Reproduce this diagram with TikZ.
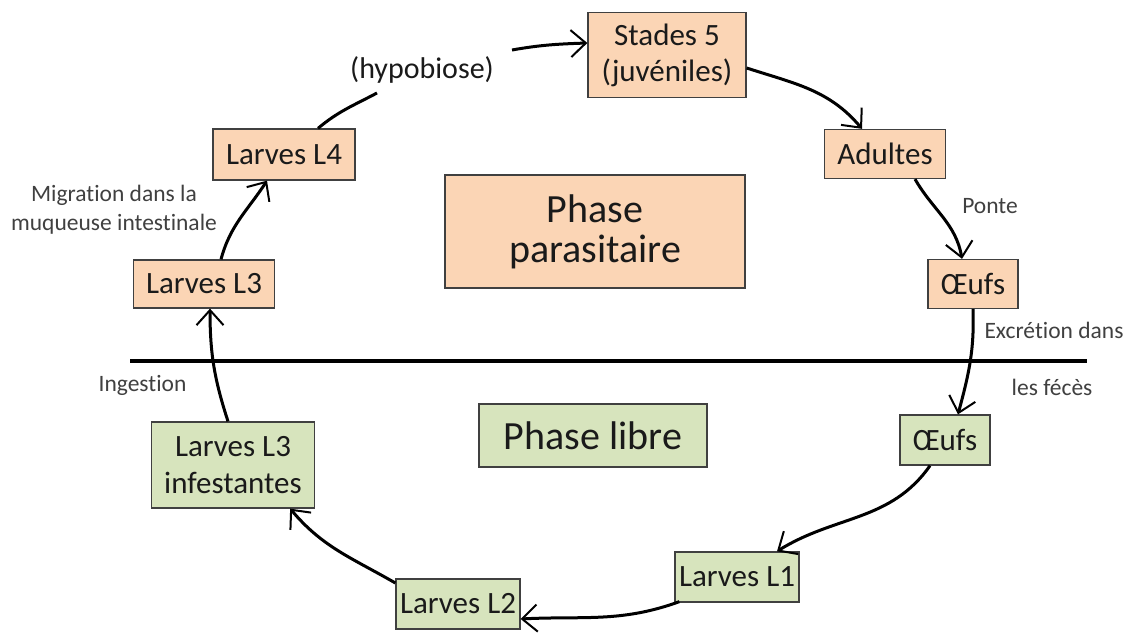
\documentclass[tikz,border=0pt]{standalone}
\usepackage{fontspec}
\setmainfont{Carlito}[Ligatures=NoCommon]
\usetikzlibrary{arrows.meta}
\definecolor{orfill}{HTML}{FBD5B5}
\definecolor{grfill}{HTML}{D7E4BD}
\definecolor{bord}{HTML}{404040}
\definecolor{txt}{HTML}{1A1A1A}
\definecolor{lab}{HTML}{404040}
\begin{document}
\begin{tikzpicture}[x=1pt,y=1pt,
 box/.style={draw=bord, line width=1.3pt, inner sep=0pt, align=center, text=txt, font=\fontsize{31}{36}\selectfont},
 obox/.style={box, fill=orfill},
 gbox/.style={box, fill=grfill},
 lbl/.style={text=lab, font=\fontsize{23.5}{29}\selectfont, align=center, inner sep=0pt},
 conn/.style={line width=3pt, draw=black, -{Straight Barb[length=15pt,width=27pt,line width=2pt]}},
 plainline/.style={line width=3pt, draw=black},
]
\useasboundingbox (0,0) rectangle (1132,635);
% separator
\coordinate (sepL) at (130,274);
\coordinate (sepR) at (1087,274);
\draw[line width=4.5pt] (sepL) -- (sepR);
% boxes
\node[obox, minimum width=158pt, minimum height=85pt] (S5) at (667,580) {Stades 5\\(juvéniles)};
\node[obox, minimum width=121pt, minimum height=49pt] (AD) at (885,481) {Adultes};
\node[obox, minimum width=90pt, minimum height=49pt] (OO) at (973,351) {Œufs};
\node[gbox, minimum width=90pt, minimum height=50pt] (OG) at (945,195) {Œufs};
\node[gbox, minimum width=124pt, minimum height=50pt] (L1) at (737,58) {Larves L1};
\node[gbox, minimum width=124pt, minimum height=50pt] (L2) at (458,31) {Larves L2};
\node[gbox, minimum width=163pt, minimum height=86pt, font=\fontsize{31}{37}\selectfont] (L3i) at (233,170) {Larves L3\\infestantes};
\node[obox, minimum width=141pt, minimum height=48pt] (L3) at (204,351) {Larves L3};
\node[obox, minimum width=142pt, minimum height=51pt] (L4) at (284,480.5) {Larves L4};
\node[obox, minimum width=300pt, minimum height=113pt, font=\fontsize{40}{40}\selectfont] (PP) at (595,403.5) {Phase\\parasitaire};
\node[gbox, minimum width=228pt, minimum height=63pt, font=\fontsize{40}{40}\selectfont] (PL) at (593,199.5) {Phase libre};
% labels
\node[lbl, font=\fontsize{30}{36}\selectfont, text=txt] (hypo) at (422,565) {(hypobiose)};
\node[lbl] (ponte) at (990,429) {Ponte};
\node[lbl] (migr) at (114,425) {Migration dans la\\muqueuse intestinale};
\node[lbl] (excr) at (1054,305) {Excrétion dans};
\node[lbl] (feces) at (1052,248) {les fécès};
\node[lbl] (ingest) at (142.5,250) {Ingestion};
% connectors
\draw[conn] ([xshift=17]L3.north) to[out=75,in=237] ([xshift=-17]L4.south);
\draw[plainline] ([xshift=34]L4.north) to[out=40,in=208] ([shift={(-45,-23)}]hypo.center);
\draw[conn] ([shift={(90,20)}]hypo.center) to[out=10,in=182] ([yshift=12]S5.west);
\draw[conn] ([yshift=-13]S5.east) to[out=-18,in=130] ([xshift=-23]AD.north);
\draw[conn] ([xshift=30]AD.south) to[out=-60,in=100] ([xshift=-11]OO.north);
\draw[conn] (OO.south) to[out=-88,in=75] ([xshift=13]OG.north);
\draw[conn] ([xshift=-15]OG.south) to[out=-125,in=32] ([xshift=40]L1.north);
\draw[conn] ([xshift=5,yshift=1]L1.south west) to[out=200,in=3] ([yshift=-15]L2.east);
\draw[conn] ([yshift=21]L2.west) to[out=150,in=-50] ([xshift=-25]L3i.south east);
\draw[conn] ([xshift=-5]L3i.north) to[out=108,in=-90] ([xshift=6]L3.south);
\end{tikzpicture}
\end{document}
